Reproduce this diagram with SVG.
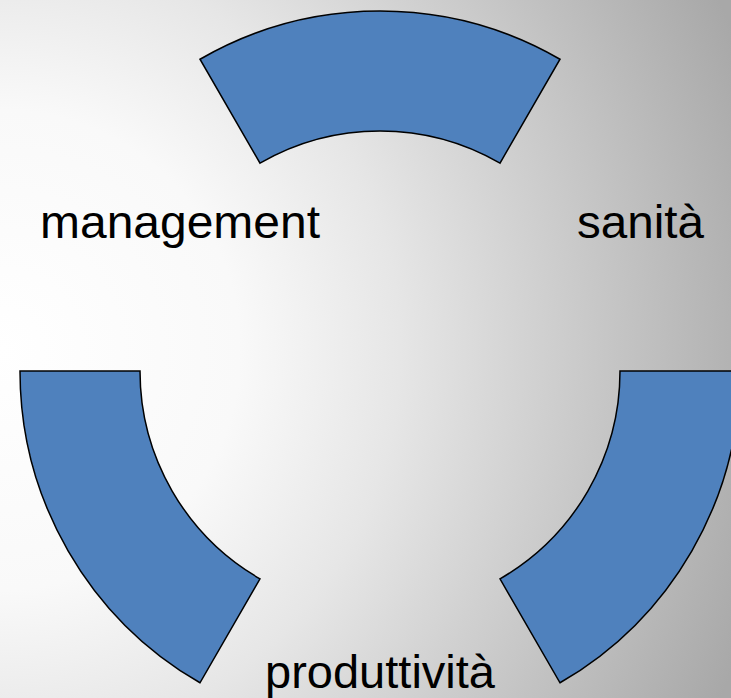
<svg xmlns="http://www.w3.org/2000/svg" width="731" height="698" viewBox="0 0 731 698">
<defs>
<radialGradient id="bg" gradientUnits="userSpaceOnUse" cx="0" cy="350" r="800">
<stop offset="0" stop-color="#ffffff"/>
<stop offset="0.3" stop-color="#f9f9f9"/>
<stop offset="0.5" stop-color="#e6e6e6"/>
<stop offset="1" stop-color="#a8a8a8"/>
</radialGradient>
<style>
.seg{fill:#4F81BD;stroke:#000;stroke-width:1.5;stroke-linejoin:miter}
.lbl{font-family:"Liberation Sans",Arial,sans-serif;font-size:47px;fill:#000}
</style>
</defs>
<rect x="0" y="0" width="731" height="698" fill="url(#bg)"/>
<g id="seg-top"><path class="seg" d="M200,59.23 A360,360 0 0 1 560,59.23 L500,163.15 A240,240 0 0 0 260,163.15 Z"/></g>
<g id="seg-right"><path class="seg" d="M620,371 L740,371 A360,360 0 0 1 560,682.77 L500,578.85 A240,240 0 0 0 620,371 Z"/></g>
<g id="seg-left"><path class="seg" d="M20,371 L140,371 A240,240 0 0 0 260,578.85 L200,682.77 A360,360 0 0 1 20,371 Z"/></g>
<g id="connectors"></g>
<g id="label-management"><text class="lbl" x="40" y="238" textLength="280" lengthAdjust="spacingAndGlyphs">management</text></g>
<g id="label-sanita"><text class="lbl" x="577" y="238" textLength="127" lengthAdjust="spacingAndGlyphs">sanità</text></g>
<g id="label-produttivita"><text class="lbl" x="265" y="688" textLength="230" lengthAdjust="spacingAndGlyphs">produttività</text></g>
</svg>
